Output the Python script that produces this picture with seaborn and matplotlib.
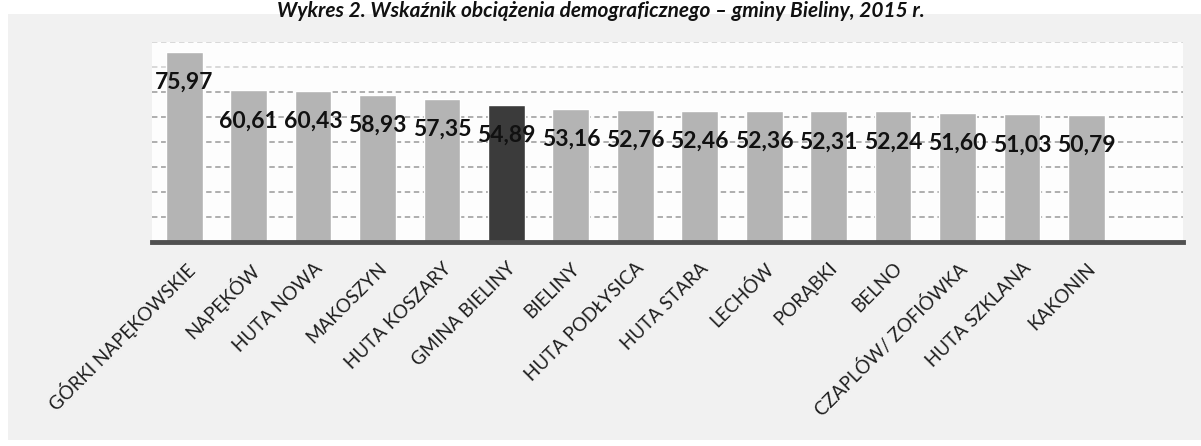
import matplotlib
matplotlib.use("Agg")
import matplotlib.pyplot as plt
from matplotlib.patches import Rectangle
import seaborn as sns
import pandas as pd

# data
miejscowosci = [
    "GÓRKI NAPĘKOWSKIE", "NAPĘKÓW", "HUTA NOWA", "MAKOSZYN", "HUTA KOSZARY",
    "GMINA BIELINY", "BIELINY", "HUTA PODŁYSICA", "HUTA STARA", "LECHÓW",
    "PORĄBKI", "BELNO", "CZAPLÓW/ ZOFIÓWKA", "HUTA SZKLANA", "KAKONIN",
]
wskaznik = [75.97, 60.61, 60.43, 58.93, 57.35, 54.89, 53.16, 52.76, 52.46,
            52.36, 52.31, 52.24, 51.60, 51.03, 50.79]
wyrozniona = "GMINA BIELINY"

df = pd.DataFrame({"miejscowosc": miejscowosci, "wskaznik": wskaznik})
kolory = {m: ("#3b3b3b" if m == wyrozniona else "#b4b4b4") for m in miejscowosci}

sns.set_style("white")
plt.rcParams["font.family"] = ["Lato", "DejaVu Sans"]

fig = plt.figure(figsize=(12.01, 4.46), dpi=100, facecolor="white")
# scanned page background
fig.patches.append(Rectangle((8 / 1201, 6 / 446), 1 - 8 / 1201, 1 - 20 / 446,
                             transform=fig.transFigure, facecolor="#f1f1f1",
                             edgecolor="none", zorder=-10))
ax = fig.add_axes([152 / 1201, 204 / 446, 1031 / 1201, 200 / 446])
ax.set_facecolor("#fdfdfd")

sns.barplot(data=df, x="miejscowosc", y="wskaznik", hue="miejscowosc",
            palette=kolory, legend=False, width=0.57, saturation=1, ax=ax,
            zorder=3)

ax.set_xlim(-0.5, 15.5)
ax.set_ylim(0, 80)
ax.set_yticks(range(10, 81, 10))
ax.yaxis.grid(True, color="#a8a8a8", linestyle=(0, (3, 2)), linewidth=1.3, zorder=0)
for gl in ax.get_ygridlines()[-2:]:
    gl.set_color("#d6d6d6")
ax.tick_params(axis="y", left=False, labelleft=False)
for s in ["top", "right", "left"]:
    ax.spines[s].set_visible(False)
ax.spines["bottom"].set_color("#505050")
ax.spines["bottom"].set_linewidth(3.5)
ax.spines["bottom"].set_zorder(4)

ax.set_xlabel("")
ax.set_ylabel("")
ax.tick_params(axis="x", bottom=False, pad=9)
ax.set_xticks(range(len(miejscowosci)))
ax.set_xticklabels(miejscowosci, rotation=45, ha="right", rotation_mode="anchor",
                   fontsize=13.5, color="#1e1e1e")

for i, v in enumerate(wskaznik):
    ax.annotate(f"{v:.2f}".replace(".", ","), xy=(i, v), xytext=(0, -22),
                textcoords="offset points", ha="center", va="center",
                fontsize=16.5, fontweight="bold", color="#111111", zorder=5)

fig.text(0.5, 1 - 17 / 446,
         "Wykres 2. Wskaźnik obciążenia demograficznego – gminy Bieliny, 2015 r.",
         ha="center", va="baseline", fontsize=15, fontweight="bold",
         fontstyle="italic", color="#111111")

fig.savefig("out.png", dpi=100, facecolor=fig.get_facecolor())
